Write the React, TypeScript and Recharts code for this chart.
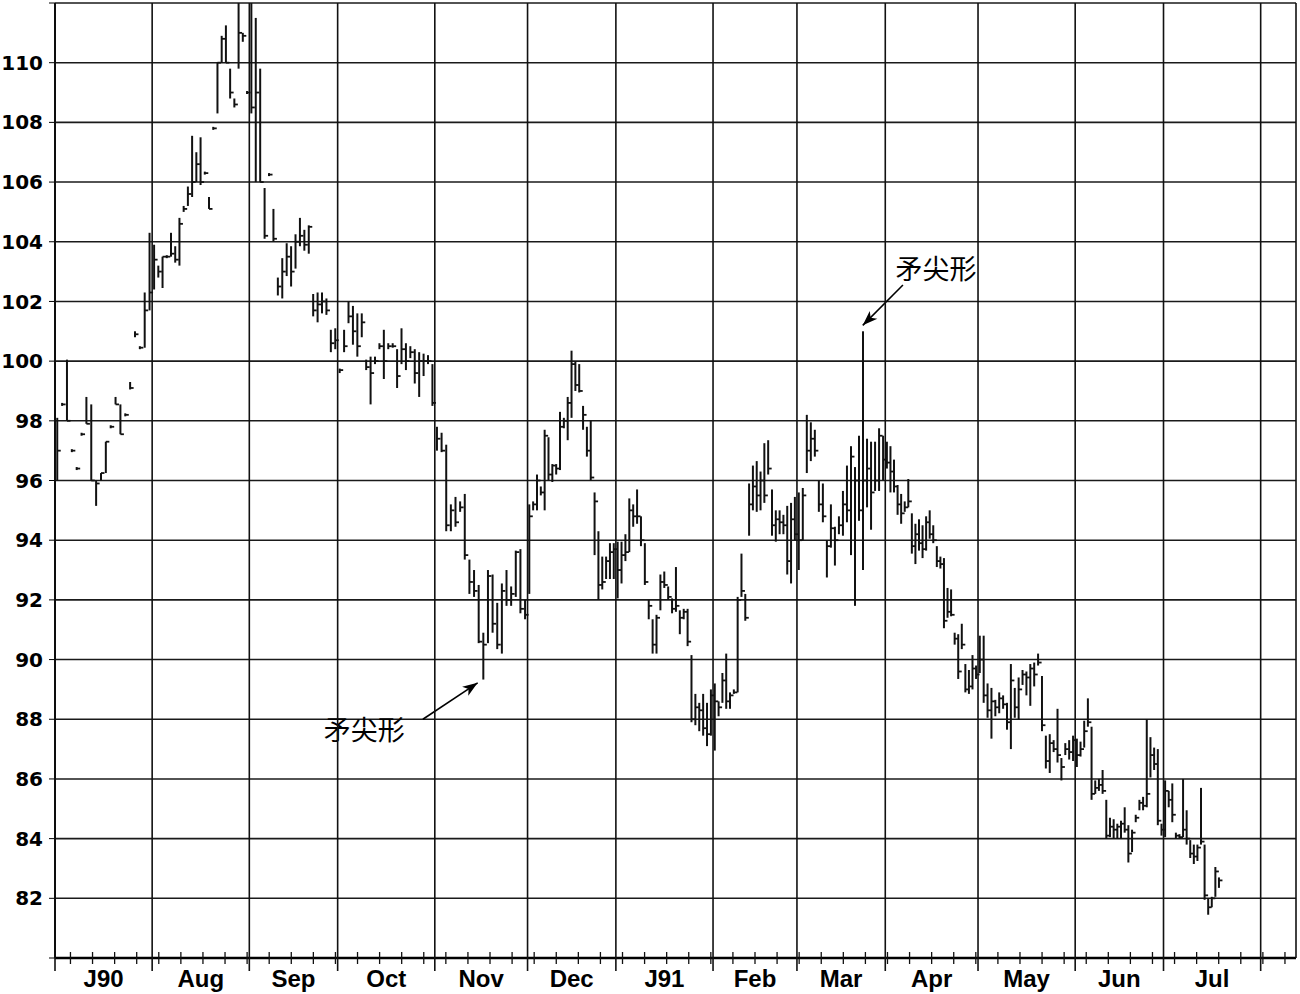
import React from 'react'
import {
  ComposedChart,
  Bar,
  XAxis,
  YAxis,
  CartesianGrid,
  ReferenceLine,
  ReferenceDot
} from 'recharts'

// Each session: [high, low, close]
const jul90 = [
  [98.1, 96.0, 97.0], [98.6, 98.5, 98.55], [100.05, 98.0, 98.0], [97.05, 96.95, 97.0],
  [96.45, 96.35, 96.4], [97.6, 97.5, 97.55], [98.8, 97.9, 97.9], [98.55, 96.0, 96.0],
  [96.0, 95.15, 95.9], [96.25, 96.0, 96.25], [97.3, 96.25, 97.3], [97.85, 97.75, 97.8],
  [98.8, 98.55, 98.55], [98.55, 97.55, 97.55], [98.25, 98.15, 98.2], [99.3, 99.05, 99.1],
  [101.0, 100.8, 100.9], [100.5, 100.4, 100.45], [102.3, 100.45, 101.7], [104.3, 101.7, 102.3]
]
const aug90 = [
  [103.9, 102.4, 103.4], [103.2, 102.8, 103.0], [103.5, 102.45, 103.5], [103.55, 103.45, 103.5],
  [104.3, 103.5, 103.6], [103.85, 103.3, 103.4], [104.8, 103.2, 104.6], [105.2, 105.0, 105.1],
  [105.85, 105.2, 105.6], [107.55, 105.5, 106.0], [107.0, 106.0, 106.6], [107.5, 105.9, 106.0],
  [106.35, 106.25, 106.3], [105.5, 105.1, 105.1], [107.85, 107.75, 107.8], [110.0, 108.3, 110.0],
  [110.9, 110.0, 110.8], [111.25, 110.0, 110.0], [109.8, 108.8, 109.0], [108.8, 108.5, 108.6],
  [112.0, 109.8, 111.0], [111.0, 110.7, 110.9], [109.05, 108.95, 109.0]
]
const sep90 = [
  [112.0, 108.3, 108.5], [111.5, 106.0, 109.0], [109.8, 106.0, 106.0], [105.8, 104.1, 104.2],
  [106.3, 106.2, 106.25], [105.1, 104.0, 104.1], [102.8, 102.2, 102.5], [103.45, 102.1, 103.0],
  [103.95, 102.85, 103.5], [103.85, 102.5, 103.0], [104.25, 103.1, 104.0], [104.8, 103.85, 104.2],
  [104.4, 103.7, 103.9], [104.55, 103.6, 104.5], [102.25, 101.5, 101.7], [102.3, 101.3, 101.9],
  [102.3, 101.6, 102.0], [102.1, 101.55, 101.7], [101.05, 100.3, 100.6], [101.1, 100.4, 100.7]
]
const oct90 = [
  [99.75, 99.6, 99.7], [101.05, 100.3, 100.5], [102.0, 101.27, 101.5], [101.85, 100.55, 101.0],
  [101.6, 100.15, 100.5], [101.6, 100.8, 101.3], [100.05, 99.7, 99.8], [100.15, 98.55, 99.6],
  [100.15, 99.9, 100.0], [100.6, 100.4, 100.5], [101.05, 99.4, 100.0], [100.6, 100.4, 100.5],
  [100.6, 100.45, 100.5], [100.4, 99.1, 99.5], [101.1, 99.9, 100.4], [100.6, 99.7, 100.0],
  [100.5, 100.1, 100.3], [100.4, 99.25, 99.6], [100.3, 98.8, 100.0], [100.25, 99.5, 100.0],
  [100.2, 99.9, 100.0], [99.9, 98.5, 98.6]
]
const nov90 = [
  [97.8, 97.0, 97.4], [97.6, 96.95, 97.0], [97.2, 94.3, 94.5], [95.2, 94.3, 95.0],
  [95.45, 94.45, 94.6], [95.3, 94.95, 95.1], [95.55, 93.35, 93.5], [93.35, 92.2, 92.6],
  [93.0, 92.1, 92.3], [92.5, 90.55, 90.6], [90.9, 89.33, 90.5], [93.0, 90.55, 92.8],
  [92.85, 90.9, 91.2], [91.9, 90.35, 90.5], [92.55, 90.2, 92.3], [93.0, 91.8, 92.0],
  [92.45, 91.8, 92.2], [93.65, 92.1, 93.6], [93.7, 91.55, 91.7], [92.0, 91.35, 91.5]
]
const dec90 = [
  [95.2, 92.2, 94.8], [95.3, 95.0, 95.2], [96.2, 95.0, 96.0], [95.8, 95.5, 95.6],
  [97.7, 95.0, 97.5], [97.45, 96.0, 96.2], [96.55, 95.95, 96.5], [96.55, 96.2, 96.4],
  [98.3, 96.35, 97.8], [98.1, 97.75, 98.0], [98.8, 97.35, 98.6], [100.35, 98.1, 99.9],
  [100.0, 99.0, 99.2], [99.9, 98.95, 99.0], [98.5, 97.7, 98.2], [97.8, 96.8, 97.0],
  [98.0, 96.0, 96.1], [95.6, 93.5, 95.3], [94.3, 92.0, 92.5], [93.45, 92.35, 92.6],
  [93.45, 92.7, 93.3], [93.9, 92.7, 93.6], [93.9, 92.7, 93.7]
]
const jan91 = [
  [93.95, 92.05, 93.0], [93.95, 92.55, 93.5], [94.2, 93.3, 93.6], [95.4, 93.6, 95.0],
  [95.2, 94.45, 94.8], [95.7, 94.55, 94.8], [94.8, 93.8, 94.0], [93.9, 92.5, 92.6],
  [92.0, 91.35, 91.8], [91.35, 90.2, 90.5], [91.5, 90.2, 91.4], [92.85, 91.65, 92.6],
  [92.95, 92.4, 92.5], [92.45, 92.0, 92.1], [92.05, 91.55, 91.7], [93.1, 91.6, 91.8],
  [91.65, 90.85, 91.4], [91.7, 91.35, 91.6], [91.7, 90.45, 90.6], [90.15, 87.9, 88.0],
  [88.85, 87.8, 88.4], [88.55, 87.6, 88.3], [88.85, 87.45, 87.7], [88.55, 87.1, 87.5],
  [89.0, 87.45, 88.8]
]
const feb91 = [
  [89.2, 86.95, 88.6], [88.6, 88.1, 88.4], [89.55, 88.55, 89.3], [90.2, 88.35, 88.6],
  [88.9, 88.35, 88.8], [89.0, 88.85, 88.9], [92.1, 88.9, 92.0], [93.55, 92.1, 92.3],
  [92.2, 91.3, 91.4], [95.9, 94.15, 95.2], [96.5, 95.0, 95.8], [96.65, 94.95, 95.5],
  [96.3, 95.0, 96.0], [97.25, 95.25, 95.5], [97.35, 96.2, 96.4], [95.7, 94.15, 94.5],
  [95.0, 93.95, 94.7], [95.0, 94.2, 94.6], [94.85, 94.2, 94.5], [95.15, 92.85, 93.3],
  [95.25, 92.55, 94.7], [95.45, 94.0, 94.2]
]
const mar91 = [
  [95.6, 93.0, 94.0], [95.75, 94.0, 95.5], [98.2, 96.25, 97.0], [97.95, 96.65, 97.4],
  [97.7, 96.8, 97.0], [96.0, 94.95, 95.2], [95.9, 94.6, 94.8], [94.0, 92.75, 93.8],
  [95.2, 93.75, 94.4], [94.45, 93.15, 94.0], [94.8, 94.2, 94.5], [95.65, 94.15, 95.2],
  [96.5, 94.6, 95.0], [97.15, 93.5, 96.8], [96.45, 91.8, 96.0], [97.5, 94.65, 95.0],
  [101.0, 93.0, 96.0], [97.4, 95.1, 96.4], [97.3, 94.35, 95.6], [97.3, 95.65, 96.0],
  [97.75, 95.65, 97.5], [97.5, 96.0, 96.7]
]
const apr91 = [
  [97.3, 96.4, 96.6], [97.15, 95.6, 96.3], [96.7, 95.6, 95.8], [95.85, 94.85, 95.2],
  [95.55, 94.55, 94.9], [95.3, 94.95, 95.1], [96.05, 95.1, 95.3], [94.9, 93.55, 93.8],
  [94.55, 93.2, 94.2], [94.7, 93.65, 93.9], [94.5, 93.4, 93.7], [94.8, 93.65, 94.6],
  [95.0, 94.05, 94.2], [94.5, 93.9, 94.0], [93.8, 93.1, 93.3], [93.45, 93.05, 93.2],
  [93.4, 91.05, 91.3], [92.4, 91.4, 91.6], [92.35, 91.45, 91.5], [90.9, 90.5, 90.7],
  [90.85, 89.35, 89.6], [91.2, 90.35, 90.5], [89.85, 88.9, 89.0], [89.65, 88.85, 89.1],
  [90.15, 89.0, 89.7], [89.8, 89.35, 89.5]
]
const may91 = [
  [90.8, 89.55, 90.0], [90.8, 88.55, 88.8], [89.2, 88.05, 88.3], [89.05, 87.35, 88.6],
  [88.65, 88.1, 88.4], [88.9, 88.2, 88.7], [88.8, 88.35, 88.5], [88.55, 87.65, 87.9],
  [89.85, 87.0, 89.3], [89.05, 88.05, 88.4], [89.4, 88.0, 89.0], [89.65, 89.15, 89.5],
  [89.6, 88.8, 89.4], [89.85, 88.45, 89.7], [89.9, 89.1, 89.5], [90.2, 89.8, 89.9],
  [89.45, 87.6, 87.8], [87.45, 86.35, 86.6], [87.5, 86.2, 87.2], [87.3, 86.9, 87.0],
  [88.35, 86.55, 86.8], [86.7, 85.95, 86.4], [87.2, 86.8, 87.0], [87.3, 86.65, 86.9],
  [87.45, 86.6, 87.3]
]
const jun91 = [
  [87.35, 86.4, 86.8], [87.25, 86.75, 87.0], [87.95, 87.05, 87.6], [88.7, 87.75, 87.9],
  [87.75, 85.3, 85.5], [85.95, 85.5, 85.7], [86.0, 85.6, 85.8], [86.3, 85.5, 85.6],
  [85.3, 84.0, 84.1], [84.7, 84.05, 84.4], [84.65, 84.0, 84.3], [84.5, 84.0, 84.4],
  [84.6, 84.0, 84.5], [85.05, 84.2, 84.3], [84.45, 83.2, 83.5], [84.3, 83.55, 84.2],
  [84.8, 84.55, 84.7], [85.3, 84.95, 85.2], [85.4, 84.95, 85.1], [88.0, 85.05, 85.5],
  [87.4, 86.05, 86.8], [87.05, 86.3, 86.5], [87.0, 84.45, 84.6], [84.5, 84.1, 84.3]
]
const jul91 = [
  [85.95, 84.05, 85.6], [85.6, 85.05, 85.3], [85.85, 84.55, 84.8], [84.2, 84.0, 84.1],
  [84.15, 84.0, 84.05], [86.0, 84.05, 84.3], [84.95, 83.8, 84.0], [83.95, 83.35, 83.5],
  [83.8, 83.15, 83.4], [83.8, 83.25, 83.7], [85.7, 83.8, 83.9], [83.8, 81.95, 82.1],
  [82.0, 81.45, 81.7], [82.05, 81.7, 82.0], [83.05, 82.05, 82.9], [82.7, 82.35, 82.6]
]

// month label, trading days in month, sessions shown
const months = [
  { label: 'J90', days: 22, bars: jul90 },
  { label: 'Aug', days: 22, bars: aug90 },
  { label: 'Sep', days: 20, bars: sep90 },
  { label: 'Oct', days: 22, bars: oct90 },
  { label: 'Nov', days: 21, bars: nov90 },
  { label: 'Dec', days: 20, bars: dec90 },
  { label: 'J91', days: 22, bars: jan91 },
  { label: 'Feb', days: 19, bars: feb91 },
  { label: 'Mar', days: 20, bars: mar91 },
  { label: 'Apr', days: 21, bars: apr91 },
  { label: 'May', days: 22, bars: may91 },
  { label: 'Jun', days: 20, bars: jun91 },
  { label: 'Jul', days: 22, bars: jul91, traded: 13 }
]
const TAIL_DAYS = 8
const yTicks = [80, 82, 84, 86, 88, 90, 92, 94, 96, 98, 100, 102, 104, 106, 108, 110, 112]

const annotations = [
  { text: '矛尖形', textAt: { x: 199.5, y: 102.75 }, from: { x: 192, y: 102.55 }, to: { x: 182.9, y: 101.2 }, angle: 136 },
  { text: '矛尖形', textAt: { x: 70, y: 87.3 }, from: { x: 83.3, y: 88.0 }, to: { x: 95.7, y: 89.22 }, angle: -34 }
]

// build rows & axis ticks
const rows: any[] = []
const tickInfo = new Map<number, { boundary?: boolean; edge?: boolean; label?: string; minor?: boolean }>()
const addTick = (v: number, info: any) => tickInfo.set(v, { ...(tickInfo.get(v) || {}), ...info })

let start = 0
addTick(0, { boundary: true })
months.forEach((m) => {
  const span = m.traded ?? m.days
  const step = span / m.bars.length
  m.bars.forEach(([high, low, close], i) => {
    rows.push({ day: start + (i + 0.5) * step, high, low, close })
  })
  addTick(start + m.days / 2, { label: m.label })
  start += m.days
  addTick(start, { boundary: true })
})
const DAY_END = start + TAIL_DAYS
addTick(DAY_END, { edge: true })
for (let d = 3.5; d < DAY_END; d += 5) addTick(d, { minor: true })
const xTicks = Array.from(tickInfo.keys()).sort((a, b) => a - b)

const PLOT_H = 955

function AxisTick(props: any) {
  const { x, y, payload } = props
  const info = tickInfo.get(payload.value) || {}
  return (
    <g>
      {(info.boundary || info.edge) && (
        <line x1={x} x2={x} y1={y - PLOT_H} y2={info.edge ? y : y + 13} stroke="#111" strokeWidth={1.6} />
      )}
      {info.minor && <line x1={x} x2={x} y1={y - 6} y2={y + 6} stroke="#111" strokeWidth={1.3} />}
      {info.label && (
        <text
          x={x}
          y={y + 29}
          textAnchor="middle"
          fontFamily="'Liberation Sans', Arial, sans-serif"
          fontWeight={700}
          fontSize={24}
          fill="#000"
        >
          {info.label}
        </text>
      )}
    </g>
  )
}

function HlcBar(props: any) {
  const { x, y, width, height, payload } = props
  if (x == null || y == null) return null
  const cx = x + width / 2
  const top = Math.min(y, y + height)
  const bottom = Math.max(y, y + height)
  const yc = top + ((payload.high - payload.close) / (payload.high - payload.low)) * (bottom - top)
  return (
    <g>
      <line x1={cx} x2={cx} y1={top} y2={bottom} stroke="#111" strokeWidth={2} />
      <line x1={cx} x2={cx + 3.5} y1={yc} y2={yc} stroke="#111" strokeWidth={1.8} />
    </g>
  )
}

export default function App() {
  return (
    <div style={{ position: 'absolute', left: 0, top: 0, width: 1300, height: 994, background: '#fff' }}>
      <ComposedChart width={1300} height={994} data={rows} margin={{ top: 3, right: 4, bottom: 0, left: 0 }}>
        <CartesianGrid horizontal vertical={false} stroke="#1a1a1a" strokeWidth={1.6} />
        <XAxis
          dataKey="day"
          type="number"
          domain={[0, DAY_END]}
          ticks={xTicks}
          interval={0}
          allowDataOverflow
          height={36}
          tickLine={false}
          tickSize={0}
          tickMargin={0}
          axisLine={{ stroke: '#000', strokeWidth: 2.5 }}
          tick={<AxisTick />}
        />
        <YAxis
          type="number"
          domain={[80, 112]}
          ticks={yTicks}
          interval={0}
          allowDataOverflow
          width={55}
          tickSize={6}
          tickMargin={6}
          tickFormatter={(v) => (v === 80 || v === 112 ? '' : String(v))}
          axisLine={{ stroke: '#000', strokeWidth: 2 }}
          tickLine={{ stroke: '#000' }}
          tick={{ fill: '#000', fontSize: 20, fontWeight: 700, fontFamily: 'DejaVu Sans' }}
        />
        <Bar
          dataKey={(d: any) => [d.low, d.high]}
          barSize={4}
          isAnimationActive={false}
          shape={(p: any) => <HlcBar {...p} />}
        />
        {annotations.map((a, i) => (
          <ReferenceLine
            key={`l${i}`}
            segment={[a.from, a.to]}
            stroke="#000"
            strokeWidth={1.6}
            ifOverflow="visible"
          />
        ))}
        {annotations.map((a, i) => (
          <ReferenceDot
            key={`h${i}`}
            x={a.to.x}
            y={a.to.y}
            r={1}
            ifOverflow="visible"
            shape={(p: any) => (
              <polygon
                points="0,0 -15,-5.5 -11,0 -15,5.5"
                fill="#000"
                transform={`translate(${p.cx},${p.cy}) rotate(${a.angle})`}
              />
            )}
          />
        ))}
        {annotations.map((a, i) => (
          <ReferenceDot
            key={`t${i}`}
            x={a.textAt.x}
            y={a.textAt.y}
            r={1}
            ifOverflow="visible"
            shape={(p: any) => (
              <text
                x={p.cx}
                y={p.cy}
                textAnchor="middle"
                fontSize={27}
                fontFamily="'Noto Sans CJK SC', sans-serif"
                fill="#000"
              >
                {a.text}
              </text>
            )}
          />
        ))}
      </ComposedChart>
    </div>
  )
}
